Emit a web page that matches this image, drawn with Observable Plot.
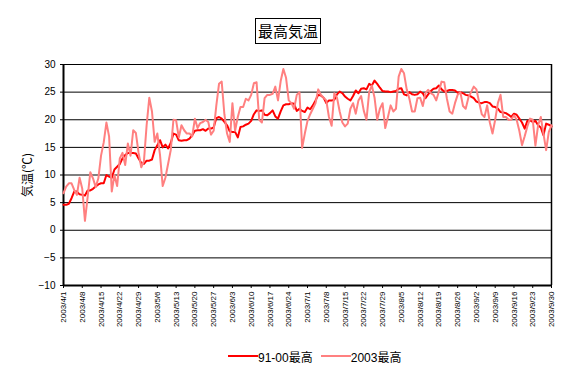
<!DOCTYPE html>
<html><head><meta charset="utf-8">
<script src="https://cdn.jsdelivr.net/npm/d3@7"></script>
<script src="https://cdn.jsdelivr.net/npm/@observablehq/plot@0.6"></script>
<style>
body{margin:0;background:#fff;}
#wrap{position:relative;width:576px;height:370px;overflow:hidden;background:#fff}
#title{position:absolute;left:255px;top:18px;width:64px;height:24px;border:1px solid #000;font:15px "Noto Sans CJK JP";text-align:center;line-height:24px;color:#000}
#chart{position:absolute;left:0;top:50px}
#legend{position:absolute;left:228px;top:346px;height:20px;display:flex;align-items:center;font:12px "Liberation Sans","Noto Sans CJK JP";color:#000}
.sw{width:30px;height:2px;display:inline-block}
</style></head><body>
<div id="wrap"><div id="title"></div><div id="chart"></div><div id="legend"></div></div>
<script>
const chartTitle = "最高気温";
const yLabel = "気温(℃)";
const seriesNames = ["91-00最高", "2003最高"];
const seriesColors = ["#FF0000", "#FF8080"];
const yTicks = [-10, -5, 0, 5, 10, 15, 20, 25, 30];
const tickLabels = ["2003/4/1","2003/4/8","2003/4/15","2003/4/22","2003/4/29","2003/5/6","2003/5/13","2003/5/20","2003/5/27","2003/6/3","2003/6/10","2003/6/17","2003/6/24","2003/7/1","2003/7/8","2003/7/15","2003/7/22","2003/7/29","2003/8/5","2003/8/12","2003/8/19","2003/8/26","2003/9/2","2003/9/9","2003/9/16","2003/9/23","2003/9/30"];
const firstDay = "2003/4/1";
const lastDay = "2003/9/30";
// 91-00 average daily max (°C), 4/1 .. 9/30
const normal91_00 = [
4.6,4.6,4.8,5.8,7.0,7.0,6.5,6.4,6.3,7.2,
7.2,7.5,7.9,8.3,8.5,8.5,10.0,9.7,9.5,11.0,
11.5,12.0,13.0,13.6,14.0,14.0,14.0,13.9,13.0,12.2,
12.0,12.6,12.6,12.8,14.5,15.4,16.3,15.0,15.5,14.8,
15.8,17.5,17.3,16.3,16.2,16.3,16.3,16.6,17.2,18.0,
18.1,18.1,18.3,18.0,18.4,18.4,18.6,20.3,20.5,20.2,
19.6,19.0,17.9,17.8,17.8,16.8,18.7,18.8,19.1,19.3,
19.8,21.0,21.7,21.6,21.7,20.9,20.8,21.2,21.7,20.6,
20.2,21.5,22.6,22.8,22.8,23.0,22.9,21.6,22.0,21.6,
21.4,22.2,21.9,22.6,23.5,24.5,24.4,24.0,23.0,23.5,
23.5,23.6,24.6,25.1,24.8,24.2,23.8,23.5,24.3,25.3,
24.8,25.6,25.7,25.5,26.5,26.2,27.1,26.5,25.8,25.2,
25.1,25.1,25.0,25.1,25.2,25.6,25.7,24.6,24.4,25.0,
24.6,24.5,24.6,25.1,24.8,23.9,24.6,25.2,25.6,25.7,
26.2,25.5,25.1,25.2,25.4,25.4,25.3,24.9,25.0,24.8,
24.5,24.4,24.2,23.9,23.3,23.1,23.0,23.2,23.2,23.0,
22.4,22.3,22.0,21.4,21.3,21.2,20.9,20.5,21.1,20.9,
20.2,19.5,18.4,19.8,19.9,19.6,19.8,19.0,18.6,17.2,
19.3,19.1,18.8];
// 2003 daily max (°C), 4/1 .. 9/30
const max2003 = [
6.7,7.9,8.5,8.5,7.3,6.4,9.5,7.5,1.7,6.0,
10.5,9.4,7.8,9.4,13.5,15.9,19.5,17.0,7.0,10.0,
8.0,13.0,14.0,11.8,15.7,13.5,18.1,17.6,14.0,11.4,
12.5,19.0,24.0,21.5,16.0,17.5,13.6,8.0,9.5,12.0,
14.5,20.0,19.9,16.8,19.0,18.1,17.5,17.5,17.0,20.2,
18.5,19.4,19.6,20.0,19.6,17.3,18.0,22.6,26.5,26.9,
21.0,17.5,16.0,23.0,18.0,20.5,22.3,22.3,23.8,23.5,
24.5,26.6,26.8,20.0,19.5,23.9,24.5,24.5,24.7,26.0,
23.5,27.0,29.2,27.6,23.5,23.0,22.0,24.5,25.0,14.9,
17.5,19.8,21.0,22.0,23.0,25.5,24.5,24.0,23.5,20.5,
18.9,24.8,24.0,21.5,19.5,18.8,19.3,22.0,23.0,21.1,
23.5,24.3,21.6,20.0,25.0,26.2,24.0,20.0,22.0,23.0,
18.5,20.5,22.6,21.5,22.0,27.8,29.2,28.4,25.5,23.8,
21.5,21.5,23.9,24.0,22.5,24.8,25.4,24.8,24.5,23.5,
25.1,26.9,26.8,23.8,21.5,21.1,23.0,24.5,25.0,22.5,
22.0,24.0,25.0,26.0,25.5,23.2,21.0,20.5,22.6,19.5,
17.5,20.0,23.0,24.5,20.5,20.5,20.0,20.0,20.8,20.0,
18.0,15.4,17.0,18.8,20.2,20.0,15.3,19.0,20.5,17.5,
14.5,17.8,19.0];

const parse = d3.utcParse("%Y/%m/%d");
const start = parse(firstDay), end = parse(lastDay);
const dates = d3.utcDay.range(start, d3.utcDay.offset(end, 1));
const tickDates = tickLabels.map(parse);
const rows = [];
dates.forEach((d, i) => {
  rows.push({date: d, value: normal91_00[i], series: seriesNames[0]});
});
dates.forEach((d, i) => {
  rows.push({date: d, value: max2003[i], series: seriesNames[1]});
});

document.getElementById("title").textContent = chartTitle;

const plot = Plot.plot({
  width: 576, height: 295,
  marginTop: 14, marginBottom: 60, marginLeft: 63, marginRight: 25,
  x: {type: "utc", domain: [start, end]},
  y: {domain: [-10, 30]},
  color: {domain: seriesNames, range: seriesColors},
  style: {fontFamily: "Liberation Sans, Noto Sans CJK JP", fontSize: "10px", color: "black", background: "white"},
  marks: [
    Plot.ruleY(yTicks, {stroke: "black", strokeWidth: 1}),
    Plot.ruleY([yTicks[0]], {stroke: "black", strokeWidth: 2}),
    Plot.ruleX([start], {stroke: "black", strokeWidth: 2}),
    Plot.ruleX([end], {stroke: "black", strokeWidth: 1.5}),
    Plot.line(rows, {x: "date", y: "value", z: "series", stroke: "series", strokeWidth: 2}),
    Plot.axisY({ticks: yTicks, tickSize: 3, tickPadding: 5, fontSize: 10, label: yLabel, labelAnchor: "center", labelArrow: "none", labelOffset: 40}),
    Plot.axisX({ticks: tickDates, tickFormat: d3.utcFormat("%Y/%-m/%-d"), tickRotate: -90, tickSize: 3, tickPadding: 3, fontSize: 8, label: null})
  ]
});
document.getElementById("chart").appendChild(plot);
d3.select(plot).selectAll('g[aria-label="y-axis label"] text')
  .style("font-size", "12px").style("font-family", "Noto Sans CJK JP");

const lg = d3.select("#legend");
seriesNames.forEach((n, i) => {
  lg.append("span").attr("class", "sw").style("background", seriesColors[i]);
  lg.append("span").text(n).style("margin-right", i === 0 ? "8px" : "0");
});
</script>
</body></html>
